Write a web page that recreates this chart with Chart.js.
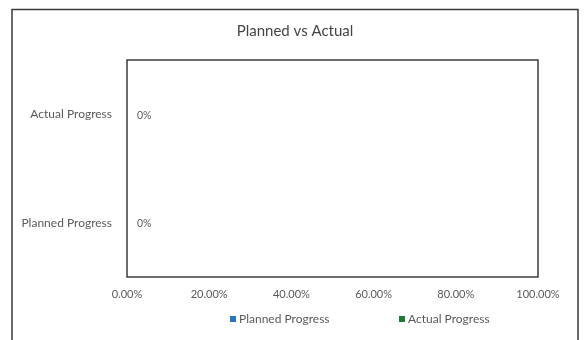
<!DOCTYPE html>
<html>
<head>
<meta charset="utf-8">
<script src="https://cdn.jsdelivr.net/npm/chart.js@4.4.1/dist/chart.umd.min.js"></script>
<style>
  html, body { margin: 0; padding: 0; background: #ffffff; }
  #wrap { width: 586px; height: 340px; position: relative; }
</style>
</head>
<body>
<div id="wrap"><canvas id="c" width="586" height="340"></canvas></div>
<script>
// Progress categories (bottom to top) and one series per category
const categories = ['Planned Progress', 'Actual Progress'];
const seriesNames = ['Planned Progress', 'Actual Progress'];
const plannedValues = [0, null];
const actualValues = [null, 0];
const xTickValues = [0, 0.2, 0.4, 0.6, 0.8, 1.0];
const seriesColors = ['#2a74c2', '#1c7a3a'];

const FONT = 'Lato, "Liberation Sans", sans-serif';
const TEXT = '#5a5a5a';

const pct2 = v => (v * 100).toFixed(2) + '%';
const pct0 = v => Math.round(v * 100) + '%';

// Outer chart frame and the box round the plot area
const framePlugin = {
  id: 'frame',
  beforeDraw(chart) {
    const ctx = chart.ctx;
    ctx.save();
    ctx.strokeStyle = '#3a3a3a';
    ctx.lineWidth = 1.5;
    ctx.strokeRect(12, 9.5, 566, 340);
    ctx.restore();
  },
  afterDraw(chart) {
    const { ctx, chartArea: a } = chart;
    ctx.save();
    ctx.strokeStyle = '#3c3c3c';
    ctx.lineWidth = 1.5;
    ctx.strokeRect(a.left, a.top, a.right - a.left, a.bottom - a.top);
    ctx.restore();
  }
};

// Value labels just past the end of each bar
const valueLabelPlugin = {
  id: 'valueLabels',
  afterDatasetsDraw(chart) {
    const ctx = chart.ctx;
    ctx.save();
    ctx.font = '10.5px ' + FONT;
    ctx.fillStyle = TEXT;
    ctx.textAlign = 'left';
    ctx.textBaseline = 'middle';
    chart.data.datasets.forEach((ds, di) => {
      const meta = chart.getDatasetMeta(di);
      meta.data.forEach((bar, i) => {
        const v = ds.data[i];
        if (v === null || v === undefined) return;
        ctx.fillText(pct0(v), bar.x + 10, bar.y + 1);
      });
    });
    ctx.restore();
  }
};

// Legend with small square markers, spaced like the workbook legend
const squareLegendPlugin = {
  id: 'squareLegend',
  afterDraw(chart) {
    const ctx = chart.ctx;
    ctx.save();
    ctx.font = '12px ' + FONT;
    ctx.textBaseline = 'middle';
    ctx.textAlign = 'left';
    const y = 319;
    const box = 6;
    const starts = [230, 399];
    chart.data.datasets.forEach((ds, i) => {
      const x = starts[i];
      ctx.fillStyle = ds.backgroundColor;
      ctx.fillRect(x, y - box / 2, box, box);
      ctx.fillStyle = TEXT;
      ctx.fillText(ds.label, x + box + 3, y);
    });
    ctx.restore();
  }
};

new Chart(document.getElementById('c'), {
  type: 'bar',
  data: {
    labels: categories,
    datasets: [
      { label: seriesNames[0], data: plannedValues, backgroundColor: seriesColors[0], borderWidth: 0 },
      { label: seriesNames[1], data: actualValues, backgroundColor: seriesColors[1], borderWidth: 0 }
    ]
  },
  options: {
    indexAxis: 'y',
    responsive: false,
    animation: false,
    skipNull: true,
    layout: { padding: { left: 12, right: 8, top: 22, bottom: 38 } },
    plugins: {
      legend: { display: false },
      tooltip: { enabled: false },
      title: {
        display: true,
        text: 'Planned vs Actual',
        color: '#444444',
        font: { family: FONT, size: 15, weight: 'normal' },
        padding: { top: 0, bottom: 20 }
      }
    },
    scales: {
      x: {
        type: 'linear',
        min: 0,
        max: 1,
        grid: { display: false, drawTicks: false },
        border: { display: false },
        afterBuildTicks(scale) { scale.ticks = xTickValues.map(v => ({ value: v })); },
        ticks: {
          color: TEXT,
          font: { family: FONT, size: 11 },
          padding: 11,
          maxRotation: 0,
          callback: v => pct2(v)
        },
        afterFit(scale) {
          scale.height = 25;
          scale.paddingLeft = 0;
          scale.paddingRight = 0;
        }
      },
      y: {
        reverse: true,
        grid: { display: false, drawTicks: false },
        border: { display: false },
        ticks: {
          color: TEXT,
          font: { family: FONT, size: 12 },
          padding: 15
        },
        afterFit(scale) {
          scale.width = 115;
          scale.paddingTop = 0;
          scale.paddingBottom = 0;
        }
      },
      // empty right-hand axis that only reserves the margin right of the plot
      yRight: {
        type: 'category',
        position: 'right',
        grid: { display: false, drawTicks: false },
        border: { display: false },
        ticks: { display: false },
        afterFit(scale) {
          scale.width = 40;
          scale.paddingTop = 0;
          scale.paddingBottom = 0;
        }
      }
    }
  },
  plugins: [framePlugin, valueLabelPlugin, squareLegendPlugin]
});
</script>
</body>
</html>
